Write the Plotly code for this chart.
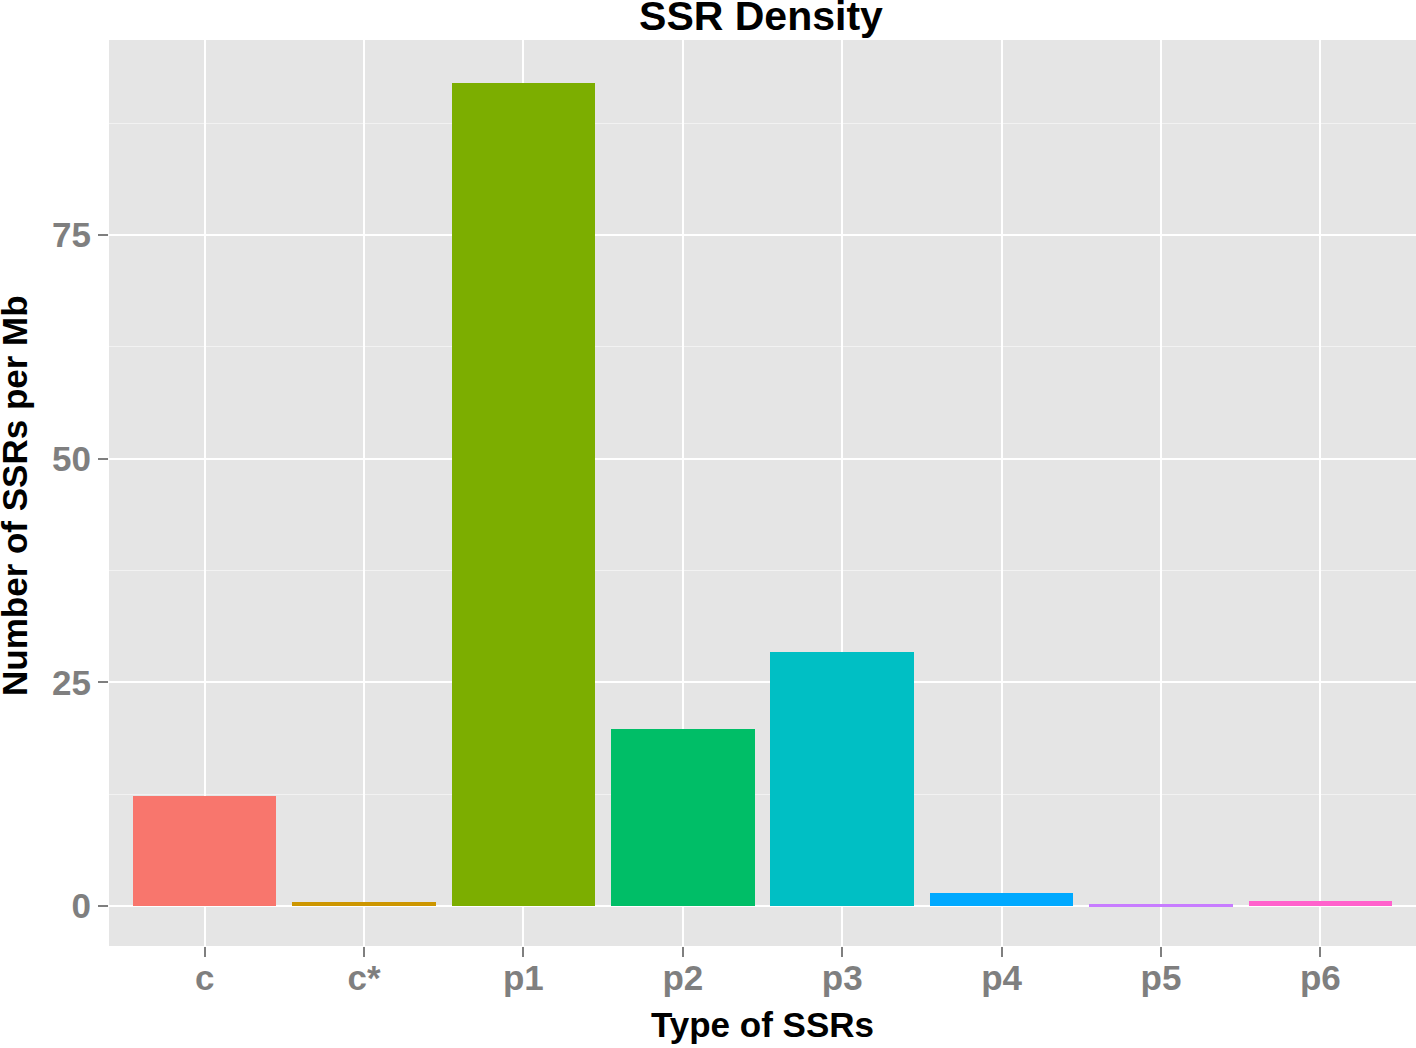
import plotly.graph_objects as go

# tipos de SSR y densidad (SSRs por Mb)
tipos = ['c', 'c*', 'p1', 'p2', 'p3', 'p4', 'p5', 'p6']
densidad = [12.3, 0.45, 92.0, 19.8, 28.4, 1.4, 0.2, 0.6]
colores = ['#F8766D', '#CD9600', '#7CAE00', '#00BE67',
           '#00BFC4', '#00A9FF', '#C77CFF', '#FF61CC']
y_ticks = [0, 25, 50, 75]
y_minor = [12.5, 37.5, 62.5, 87.5]

FUENTE = 'Liberation Sans'
GRIS = '#7F7F7F'

fig = go.Figure(go.Bar(
    x=tipos, y=densidad, width=0.9,
    marker=dict(color=colores, line=dict(width=0)),
    showlegend=False,
))

fig.update_layout(
    width=1416, height=1048,
    margin=dict(l=109, r=0, t=40, b=102, autoexpand=False),
    paper_bgcolor='white', plot_bgcolor='#E5E5E5',
    font=dict(family=FUENTE),
    title=dict(text='SSR Density', x=0.5374, xanchor='center',
               y=0.9847, yref='container', yanchor='middle',
               font=dict(size=41, color='black', weight='bold')),
    bargap=0,
)

fig.update_xaxes(
    range=[-0.6, 7.6], showgrid=True, gridcolor='white', gridwidth=2,
    ticks='outside', ticklen=10, tickwidth=2, tickcolor=GRIS,
    tickfont=dict(size=35, color=GRIS, weight='bold'),
    ticklabelstandoff=-9, automargin=False,
    title=dict(text='Type of SSRs', standoff=16,
               font=dict(size=35, color='black', weight='bold')),
    showline=False, zeroline=False,
)

fig.update_yaxes(
    range=[-4.47, 96.8], tickvals=y_ticks, showgrid=True,
    gridcolor='white', gridwidth=2,
    minor=dict(tickvals=y_minor, showgrid=True, gridcolor='#F2F2F2',
               gridwidth=1, ticks=''),
    ticks='outside', ticklen=10, tickwidth=2, tickcolor=GRIS,
    tickfont=dict(size=35, color=GRIS, weight='bold'),
    automargin=False,
    showline=False, zeroline=False,
)

# titulo del eje y como anotacion para poder pegarlo al borde
fig.add_annotation(
    text='Number of SSRs per Mb', textangle=-90,
    xref='paper', yref='paper', x=-94 / 1307, y=0.4967,
    xanchor='center', yanchor='middle', showarrow=False,
    font=dict(size=35, color='black', weight='bold'),
)

# sin margen en el body para que la figura empiece en (0, 0)
fig.write_html('out.html', config={'displayModeBar': False},
               post_script="document.body.style.margin='0px';")
